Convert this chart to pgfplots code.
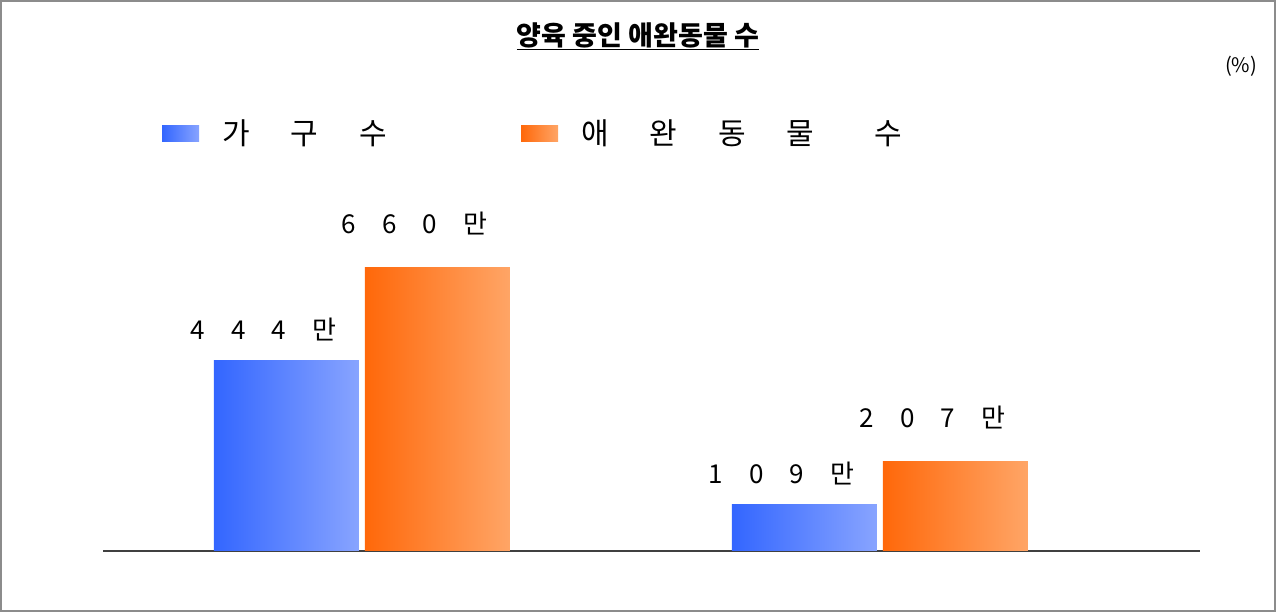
\documentclass[border=0pt]{standalone}
\usepackage{fontspec}
\setmainfont{Noto Sans CJK KR}
\usepackage{pgfplots}
\pgfplotsset{compat=1.18}
\definecolor{bluel}{HTML}{3366FF}
\definecolor{bluer}{HTML}{88A4FF}
\definecolor{orl}{HTML}{FF680A}
\definecolor{orr}{HTML}{FFA566}
\definecolor{framegray}{HTML}{8C8C8C}
\protected\def\gap{\hskip 26pt\relax}
\protected\def\lgap{\hskip 41pt\relax}
\protected\def\wgap{\hskip 60pt\relax}
\begin{document}
\begin{tikzpicture}[x=1pt,y=1pt]
\useasboundingbox (0,0) rectangle (1276,612);
\draw[framegray, line width=2pt] (1,1) rectangle (1275,611);
\node[inner sep=0pt, anchor=base, font=\fontsize{27}{32}\selectfont\bfseries] (t) at (638,566) {양육 중인 애완동물 수};
\draw[black, line width=1.5pt] (t.west |- 0,562.5) -- (t.east |- 0,562.5);
\node[inner sep=0pt, font=\fontsize{20}{24}\selectfont] at (1241,546) {(\%)};
\begin{axis}[
  at={(103pt,61pt)}, anchor=south west,
  scale only axis, width=1097pt, height=350pt,
  xmin=-0.5, xmax=1.618, ymin=0, ymax=814,
  axis x line=bottom, axis y line=none,
  x axis line style={-, draw=black!75, line width=1.2pt},
  xtick=\empty, ytick=\empty,
  ybar, bar width=145pt,
  nodes near coords, point meta=explicit symbolic,
  every node near coord/.append style={font=\fontsize{26}{31}\selectfont, anchor=base, xshift=-23pt, inner sep=0pt},
  legend columns=2,
  legend style={at={(0.0538,1.194)}, anchor=west, draw=none, fill=none, inner sep=0pt,
    font=\fontsize{30}{36}\selectfont,
    nodes={inner sep=0pt},
    /tikz/every odd column/.append style={column sep=23pt},
    /tikz/every even column/.append style={column sep=134pt}},
  bluebar/.style={draw=none, left color=bluel, right color=bluer, bar shift=-75.5pt,
    every node near coord/.append style={yshift=21pt},
    legend image code/.code={\fill[left color=bluel, right color=bluer] (0pt,-8pt) rectangle (37pt,8pt);}},
  orbar/.style={draw=none, left color=orl, right color=orr, bar shift=75.5pt,
    every node near coord/.append style={yshift=34pt},
    legend image code/.code={\fill[left color=orl, right color=orr] (0pt,-8pt) rectangle (37pt,8pt);}},
]
\addplot[bluebar] coordinates {(0,444) [4\gap4\gap4\gap{}만]};
\addplot[orbar] coordinates {(0,660) [6\gap6\gap0\gap{}만]};
\addplot[bluebar, forget plot] coordinates {(1,109) [1\gap0\gap9\gap{}만]};
\addplot[orbar, forget plot] coordinates {(1,207) [2\gap0\gap7\gap{}만]};
\legend{가\lgap{}구\lgap{}수, 애\lgap{}완\lgap{}동\lgap{}물\wgap{}수}
\end{axis}
\end{tikzpicture}
\end{document}
